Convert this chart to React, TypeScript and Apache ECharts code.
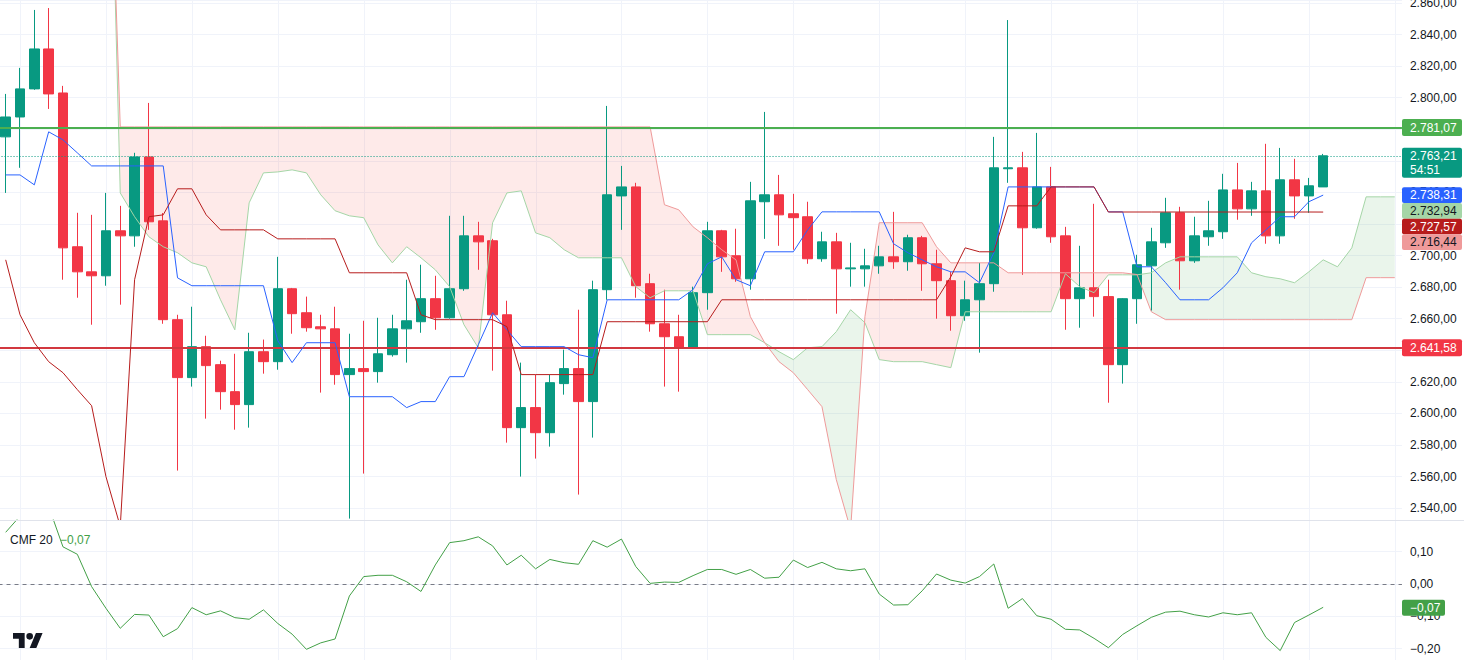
import React, { useEffect, useRef } from "react";
import * as echarts from "echarts";

// ---------- data ----------
const barIndex: string[] = Array.from({ length: 98 }, (_, i) => String(i));

const opens = [
  2775.2, 2787.8, 2805.6, 2830.9, 2803.0, 2705.6, 2689.7, 2687.2, 2715.7, 2712.5,
  2762.5, 2722.0, 2659.4, 2622.7, 2642.3, 2630.9, 2613.8, 2605.6, 2639.1, 2632.8,
  2679.0, 2663.8, 2654.9, 2653.6, 2624.6, 2628.4, 2626.5, 2637.2, 2653.6, 2658.1,
  2672.7, 2660.6, 2679.0, 2712.5, 2709.4, 2662.5, 2591.0, 2603.7, 2587.8, 2618.9,
  2628.4, 2607.5, 2678.4, 2737.8, 2743.5, 2682.2, 2656.8, 2648.6, 2641.6, 2676.5,
  2715.7, 2699.9, 2685.3, 2734.1, 2738.5, 2726.5, 2724.6, 2698.0, 2708.7, 2691.6,
  2691.6, 2693.5, 2699.2, 2696.1, 2711.3, 2694.8, 2684.1, 2661.9, 2672.0, 2682.2,
  2755.0, 2755.6, 2717.6, 2743.5, 2712.5, 2672.7, 2679.6, 2674.0, 2630.9, 2672.7,
  2693.5, 2708.1, 2727.1, 2696.7, 2711.9, 2715.1, 2741.6, 2729.6, 2741.0, 2712.5,
  2748.0, 2737.8, 2743.5,
];
const closes = [
  2787.8, 2805.6, 2830.9, 2802.4, 2704.9, 2689.7, 2687.2, 2715.7, 2712.5, 2762.5,
  2721.4, 2659.4, 2622.7, 2642.3, 2630.3, 2613.8, 2605.6, 2639.1, 2632.8, 2679.0,
  2663.2, 2654.3, 2653.6, 2624.6, 2628.4, 2626.5, 2637.8, 2653.6, 2658.7, 2672.7,
  2660.6, 2679.0, 2712.5, 2708.7, 2662.5, 2591.0, 2603.7, 2587.8, 2619.5, 2628.4,
  2607.5, 2678.4, 2738.5, 2743.5, 2680.9, 2656.8, 2648.6, 2641.6, 2676.5, 2715.7,
  2699.2, 2685.3, 2734.7, 2738.5, 2725.8, 2724.0, 2698.0, 2708.7, 2691.6, 2692.2,
  2693.5, 2699.2, 2696.1, 2711.3, 2694.8, 2684.1, 2661.9, 2672.0, 2682.2, 2755.6,
  2755.6, 2717.6, 2743.5, 2711.9, 2672.7, 2679.6, 2674.0, 2630.9, 2672.7, 2694.2,
  2708.7, 2727.1, 2696.7, 2712.5, 2715.7, 2741.6, 2729.6, 2741.0, 2712.5, 2748.0,
  2737.8, 2744.2, 2763.21,
];
const lows = [
  2739.7, 2755.6, 2805.0, 2792.9, 2684.7, 2673.3, 2656.2, 2680.9, 2668.9, 2705.6,
  2716.3, 2656.8, 2563.8, 2617.0, 2596.7, 2602.4, 2589.7, 2591.0, 2625.2, 2627.7,
  2650.5, 2651.8, 2613.2, 2618.2, 2533.4, 2561.9, 2619.5, 2636.0, 2632.2, 2651.1,
  2653.0, 2660.0, 2677.7, 2691.0, 2627.1, 2581.5, 2560.0, 2571.4, 2579.0, 2611.9,
  2548.6, 2584.7, 2672.0, 2716.3, 2673.3, 2651.8, 2617.0, 2613.8, 2641.0, 2665.7,
  2689.7, 2683.4, 2678.4, 2710.6, 2706.2, 2703.7, 2694.8, 2696.1, 2663.2, 2680.3,
  2680.3, 2688.5, 2691.6, 2690.4, 2677.7, 2660.0, 2652.4, 2658.7, 2638.5, 2677.1,
  2746.1, 2687.8, 2717.0, 2708.1, 2653.0, 2654.3, 2661.3, 2606.8, 2618.9, 2656.8,
  2665.1, 2704.9, 2678.4, 2695.4, 2706.2, 2710.6, 2722.7, 2725.2, 2707.5, 2707.5,
  2723.3, 2727.1, 2743.5,
];
const highs = [
  2802.4, 2818.9, 2855.6, 2856.8, 2807.5, 2727.1, 2725.8, 2739.7, 2731.5, 2765.1,
  2796.7, 2727.0, 2662.5, 2667.6, 2649.2, 2633.4, 2637.8, 2651.1, 2646.8, 2699.2,
  2679.5, 2674.0, 2662.5, 2667.6, 2650.5, 2658.7, 2660.6, 2662.5, 2684.7, 2694.2,
  2687.2, 2725.2, 2725.2, 2721.4, 2710.6, 2671.4, 2632.2, 2624.6, 2624.6, 2640.4,
  2665.7, 2684.1, 2794.8, 2756.8, 2746.1, 2688.5, 2678.4, 2662.5, 2680.3, 2721.4,
  2716.3, 2717.0, 2746.7, 2791.0, 2751.1, 2739.1, 2734.1, 2715.1, 2714.4, 2708.1,
  2704.3, 2706.2, 2727.7, 2713.2, 2712.5, 2703.7, 2689.7, 2684.1, 2695.4, 2775.2,
  2849.2, 2765.7, 2777.7, 2756.2, 2718.2, 2706.2, 2732.8, 2684.7, 2673.0, 2700.5,
  2717.6, 2736.6, 2730.9, 2724.6, 2734.7, 2751.8, 2758.7, 2746.7, 2770.8, 2768.2,
  2761.3, 2749.2, 2764.4,
];

// Ichimoku conversion line (Tenkan)
const tenkan = [
  2751.1, 2751.1, 2744.8, 2778.4, 2773.3, 2765.1, 2756.8, 2756.8, 2756.8, 2756.8,
  2756.8, 2756.8, 2685.9, 2680.9, 2680.9, 2680.9, 2680.9, 2680.9, 2680.9, 2646.1,
  2632.2, 2644.8, 2644.8, 2644.8, 2610.6, 2610.6, 2610.6, 2610.6, 2603.7, 2607.5,
  2607.5, 2623.3, 2623.3, 2643.5, 2663.8, 2653.0, 2642.3, 2642.3, 2642.3, 2642.3,
  2637.2, 2635.3, 2672.0, 2672.0, 2672.0, 2672.0, 2672.0, 2672.0, 2678.4, 2694.8,
  2699.2, 2684.7, 2680.9, 2702.4, 2702.4, 2702.4, 2716.3, 2727.7, 2727.7, 2727.7,
  2727.7, 2727.7, 2707.5, 2701.8, 2697.3, 2692.9, 2689.7, 2689.7, 2682.8, 2701.8,
  2743.5, 2743.5, 2743.5, 2743.5, 2743.5, 2743.5, 2743.5, 2727.7, 2727.7, 2692.9,
  2692.9, 2682.8, 2672.0, 2672.0, 2672.0, 2679.6, 2689.1, 2708.1, 2716.3, 2724.6,
  2724.6, 2734.1, 2738.31,
];
// Ichimoku base line (Kijun)
const kijun = [
  2697.3, 2662.5, 2644.8, 2632.8, 2625.8, 2615.1, 2604.9, 2560.0, 2528.4, 2684.7,
  2724.6, 2725.8, 2742.3, 2742.3, 2725.8, 2716.3, 2716.3, 2716.3, 2716.3, 2710.6,
  2710.6, 2710.6, 2710.6, 2710.6, 2689.1, 2689.1, 2689.1, 2689.1, 2689.1, 2662.5,
  2659.4, 2659.4, 2659.4, 2659.4, 2659.4, 2655.0, 2624.6, 2624.6, 2624.6, 2624.6,
  2624.6, 2624.6, 2658.1, 2658.1, 2658.1, 2658.1, 2658.1, 2658.1, 2658.1, 2658.1,
  2672.0, 2672.0, 2672.0, 2672.0, 2672.0, 2672.0, 2672.0, 2672.0, 2672.0, 2672.0,
  2672.0, 2672.0, 2672.0, 2672.0, 2672.0, 2672.0, 2686.6, 2704.9, 2702.4, 2702.4,
  2731.5, 2731.5, 2731.5, 2743.5, 2743.5, 2743.5, 2743.5, 2727.6, 2727.6, 2727.6,
  2727.6, 2727.6, 2727.6, 2727.6, 2727.6, 2727.6, 2727.6, 2727.6, 2727.6, 2727.6,
  2727.6, 2727.6, 2727.57,
];
// Leading span A (shifted forward)
const spanA: (number | null)[] = [
  null, null, null, null, null, null, null, 3090.0, 2739.7, 2724.6,
  2711.9, 2705.6, 2701.8, 2695.4, 2692.9, 2672.0, 2653.0, 2733.4, 2752.4, 2753.0,
  2754.3, 2752.4, 2738.5, 2728.4, 2725.2, 2724.0, 2706.8, 2695.4, 2705.6, 2698.6,
  2691.0, 2680.3, 2656.2, 2641.6, 2720.8, 2739.7, 2741.0, 2714.4, 2711.3, 2703.7,
  2698.6, 2698.6, 2698.6, 2698.6, 2680.3, 2673.3, 2677.7, 2677.7, 2677.7, 2649.9,
  2649.9, 2649.9, 2649.9, 2644.8, 2639.1, 2634.1, 2641.6, 2642.3, 2651.8, 2665.7,
  2657.5, 2634.1, 2632.8, 2632.8, 2632.8, 2630.9, 2629.0, 2664.4, 2664.4, 2664.4,
  2664.4, 2664.4, 2664.4, 2664.4, 2688.5, 2680.3, 2676.5, 2687.8, 2687.8, 2687.8,
  2689.1, 2695.4, 2699.2, 2699.2, 2699.2, 2699.2, 2699.2, 2689.1, 2686.6, 2685.3,
  2682.8, 2689.7, 2697.3, 2692.9, 2704.9, 2737.2, 2737.2, 2737.2,
];
// Leading span B (shifted forward)
const spanB: (number | null)[] = [
  null, null, null, null, null, null, null, 3050.0, 2781.5, 2781.5,
  2781.5, 2781.5, 2781.5, 2781.5, 2781.5, 2781.5, 2781.5, 2781.5, 2781.5, 2781.5,
  2781.5, 2781.5, 2781.5, 2781.5, 2781.5, 2781.5, 2781.5, 2781.5, 2781.5, 2781.5,
  2781.5, 2781.5, 2781.5, 2781.5, 2781.5, 2781.5, 2781.5, 2781.5, 2781.5, 2781.5,
  2781.5, 2781.5, 2781.5, 2781.5, 2781.5, 2781.5, 2732.2, 2729.0, 2718.2, 2711.3,
  2703.7, 2697.3, 2661.3, 2644.8, 2632.8, 2625.8, 2615.1, 2604.3, 2558.1, 2526.5,
  2661.3, 2720.8, 2720.8, 2720.8, 2720.8, 2705.6, 2695.4, 2695.4, 2695.4, 2695.4,
  2689.1, 2689.1, 2689.1, 2689.1, 2689.1, 2689.1, 2689.1, 2689.1, 2689.1, 2688.0,
  2664.4, 2659.4, 2659.4, 2659.4, 2659.4, 2659.4, 2659.4, 2659.4, 2659.4, 2659.4,
  2659.4, 2659.4, 2659.4, 2659.4, 2659.4, 2686.0, 2686.0, 2686.0,
];
// Chaikin Money Flow (20)
const cmf = [
  0.16, 0.21, 0.28, 0.24, 0.115, 0.092, -0.008, -0.075, -0.137, -0.094,
  -0.096, -0.163, -0.138, -0.073, -0.095, -0.083, -0.104, -0.109, -0.08, -0.122,
  -0.155, -0.202, -0.182, -0.17, -0.037, 0.023, 0.027, 0.027, 0.007, -0.023,
  0.059, 0.128, 0.134, 0.146, 0.118, 0.059, 0.089, 0.047, 0.076, 0.066,
  0.061, 0.134, 0.114, 0.139, 0.054, 0.002, 0.006, 0.005, 0.026, 0.045,
  0.045, 0.03, 0.045, 0.018, 0.021, 0.074, 0.051, 0.067, 0.047, 0.041,
  0.047, -0.031, -0.065, -0.064, -0.021, 0.031, 0.012, 0.003, 0.023, 0.062,
  -0.075, -0.045, -0.098, -0.109, -0.14, -0.142, -0.168, -0.197, -0.156, -0.129,
  -0.103, -0.087, -0.084, -0.095, -0.102, -0.089, -0.095, -0.089, -0.165, -0.206,
  -0.119, -0.096, -0.072,
];

const levelGreen = 2781.07;
const levelRed = 2641.58;
const spanALabel = 2732.94;
const spanBLabel = 2716.44;
const countdown = "54:51";
const gridIdx = [1, 7, 13, 19, 25, 31, 37, 43, 49, 55, 61, 67, 73, 79, 85, 91, 97];

// ---------- helpers ----------
const FONT = '"Liberation Sans", Arial, sans-serif';
const fmt = (v: number, d = 2) => {
  const s = Math.abs(v).toFixed(d);
  const [ip, dp] = s.split(".");
  const intStr = ip.replace(/\B(?=(\d{3})+(?!\d))/g, ".");
  const neg = v < 0 && Number(s) !== 0;
  return (neg ? "\u2212" : "") + intStr + "," + dp;
};
const onStep = (v: number, step: number) => Math.abs(v / step - Math.round(v / step)) < 1e-6;

echarts.graphic.registerShape(
  "tvlogo",
  echarts.graphic.extendPath(
    "M14 22H7V11H0V4h14v18zM28 22h-8l7.5-18h8L28 22zM16 8a4 4 0 1 0 8 0a4 4 0 1 0 -8 0z",
    {}
  )
);

const GREEN_FILL = "rgba(67,160,71,0.11)";
const RED_FILL = "rgba(244,67,54,0.11)";

function gridLineRender(params: any, api: any) {
  const cs = params.coordSys;
  const x = Math.round(api.coord([api.value(0), api.value(1)])[0]) + 0.5;
  return {
    type: "line",
    shape: { x1: x, y1: cs.y, x2: x, y2: cs.y + cs.height },
    style: { stroke: "#f0f3fa", lineWidth: 1 },
  };
}

function cloudRender(_params: any, api: any) {
  const runs: { sign: number; pts: number[][] }[] = [];
  const start = spanA.findIndex((v) => v != null);
  let top: number[][] = [];
  let bot: number[][] = [];
  let sign = 0;
  for (let i = start; i < spanA.length; i++) {
    const a = spanA[i] as number;
    const b = spanB[i] as number;
    const pa = api.coord([i, a]);
    const pb = api.coord([i, b]);
    if (i === start) sign = a - b >= 0 ? 1 : -1;
    top.push(pa);
    bot.push(pb);
    if (i + 1 < spanA.length) {
      const a1 = spanA[i + 1] as number;
      const b1 = spanB[i + 1] as number;
      const s1 = a1 - b1 >= 0 ? 1 : -1;
      if (s1 !== sign) {
        const d0 = a - b;
        const d1 = a1 - b1;
        const t = d0 / (d0 - d1);
        const pa1 = api.coord([i + 1, a1]);
        const cross = [pa[0] + t * (pa1[0] - pa[0]), pa[1] + t * (pa1[1] - pa[1])];
        top.push(cross);
        bot.push(cross);
        runs.push({ sign, pts: top.concat(bot.slice().reverse()) });
        top = [cross];
        bot = [cross];
        sign = s1;
      }
    }
  }
  runs.push({ sign, pts: top.concat(bot.slice().reverse()) });
  return {
    type: "group",
    children: runs.map((r) => ({
      type: "polygon",
      shape: { points: r.pts },
      style: { fill: r.sign > 0 ? GREEN_FILL : RED_FILL },
    })),
  };
}

const GRID_LEFT = -1.46;
const GRID_W = 1403.4;

const option: any = {
  animation: false,
  backgroundColor: "#ffffff",
  textStyle: { fontFamily: FONT },
  tooltip: { show: false },
  grid: [
    { left: GRID_LEFT, top: 0, width: GRID_W, height: 520, containLabel: false, outerBoundsMode: "none" },
    { left: GRID_LEFT, top: 520, width: GRID_W, height: 140, containLabel: false, outerBoundsMode: "none" },
  ],
  xAxis: [
    { type: "category", gridIndex: 0, data: barIndex, show: false, boundaryGap: true },
    { type: "category", gridIndex: 1, data: barIndex, show: false, boundaryGap: true },
  ],
  yAxis: [
    {
      type: "value",
      gridIndex: 0,
      position: "right",
      min: 2532.5,
      max: 2861.9,
      splitNumber: 16,
      minInterval: 20,
      maxInterval: 20,
      axisLine: { show: false },
      axisTick: { show: false },
      axisLabel: {
        color: "#131722",
        fontSize: 12,
        fontFamily: FONT,
        margin: 8,
        formatter: (v: number) => (onStep(v, 20) ? fmt(v) : ""),
      },
      splitLine: { show: true, lineStyle: { color: "#f0f3fa", width: 1 } },
    },
    {
      type: "value",
      gridIndex: 1,
      position: "right",
      min: -0.235,
      max: 0.198,
      splitNumber: 4,
      minInterval: 0.1,
      maxInterval: 0.1,
      axisLine: { show: false },
      axisTick: { show: false },
      axisLabel: {
        color: "#131722",
        fontSize: 12,
        fontFamily: FONT,
        margin: 8,
        formatter: (v: number) => (onStep(v, 0.1) ? fmt(v) : ""),
      },
      splitLine: { show: true, lineStyle: { color: "#f0f3fa", width: 1 } },
    },
  ],
  series: [
    {
      type: "custom",
      name: "vgrid",
      xAxisIndex: 0,
      yAxisIndex: 0,
      silent: true,
      z: 0,
      data: gridIdx.map((i) => [i, 2700]),
      renderItem: gridLineRender,
    },
    {
      type: "custom",
      name: "vgrid2",
      xAxisIndex: 1,
      yAxisIndex: 1,
      silent: true,
      z: 0,
      data: gridIdx.map((i) => [i, 0]),
      renderItem: gridLineRender,
    },
    {
      type: "custom",
      name: "cloud",
      xAxisIndex: 0,
      yAxisIndex: 0,
      silent: true,
      clip: true,
      z: 1,
      data: [[0, 2700]],
      renderItem: cloudRender,
    },
    {
      type: "candlestick",
      name: "ETHUSDT",
      xAxisIndex: 0,
      yAxisIndex: 0,
      silent: true,
      z: 2,
      barWidth: 10,
      data: opens.map((o, i) => [o, closes[i], lows[i], highs[i]]),
      itemStyle: {
        color: "#089981",
        color0: "#F23645",
        borderColor: "#089981",
        borderColor0: "#F23645",
        borderWidth: 1,
      },
    },
    {
      type: "line",
      name: "levels",
      xAxisIndex: 0,
      yAxisIndex: 0,
      silent: true,
      z: 3,
      data: [],
      markLine: {
        silent: true,
        symbol: ["none", "none"],
        label: { show: false },
        data: [
          { yAxis: levelGreen, lineStyle: { color: "#4CAF50", width: 2, type: "solid" } },
          { yAxis: levelRed, lineStyle: { color: "#d2383f", width: 2, type: "solid" } },
          { yAxis: closes[closes.length - 1], lineStyle: { color: "#089981", width: 1, type: [1, 2] } },
        ],
      },
    },
    {
      type: "line",
      name: "Leading Span A",
      xAxisIndex: 0,
      yAxisIndex: 0,
      silent: true,
      z: 4,
      data: spanA,
      symbol: "none",
      lineStyle: { color: "#A5D6A7", width: 1 },
    },
    {
      type: "line",
      name: "Leading Span B",
      xAxisIndex: 0,
      yAxisIndex: 0,
      silent: true,
      z: 4,
      data: spanB,
      symbol: "none",
      lineStyle: { color: "#EF9A9A", width: 1 },
    },
    {
      type: "line",
      name: "Conversion Line",
      xAxisIndex: 0,
      yAxisIndex: 0,
      silent: true,
      z: 5,
      data: tenkan,
      symbol: "none",
      lineStyle: { color: "#2962FF", width: 1 },
    },
    {
      type: "line",
      name: "Base Line",
      xAxisIndex: 0,
      yAxisIndex: 0,
      silent: true,
      z: 5,
      data: kijun,
      symbol: "none",
      lineStyle: { color: "#B71C1C", width: 1 },
    },
    {
      type: "line",
      name: "CMF 20",
      xAxisIndex: 1,
      yAxisIndex: 1,
      silent: true,
      z: 5,
      data: cmf,
      symbol: "none",
      lineStyle: { color: "#43A047", width: 1 },
      markLine: {
        silent: true,
        symbol: ["none", "none"],
        label: { show: false },
        data: [{ yAxis: 0, lineStyle: { color: "#787B86", width: 1, type: [4, 4] } }],
      },
    },
  ],
};

export default function App() {
  const ref = useRef<HTMLDivElement>(null);
  useEffect(() => {
    const prevMargin = document.body.style.margin;
    document.body.style.margin = "0";
    document.body.style.overflow = "hidden";
    const chart = echarts.init(ref.current as HTMLDivElement, null, { renderer: "svg" });
    chart.setOption(option);

    const toY = (v: number, g: number) => chart.convertToPixel({ yAxisIndex: g } as any, v) as unknown as number;
    const font = "12px " + FONT;
    const BX = 1402;
    const BW = 60;
    const TX = 1410;
    const H = 15.7;
    const badges = [
      { v: levelGreen, bg: "#4CAF50", fg: "#ffffff", h: 17, off: 8.5 },
      { v: closes[closes.length - 1], bg: "#089981", fg: "#ffffff", h: 30, off: 8, sub: countdown },
      { v: tenkan[tenkan.length - 1], bg: "#2962FF", fg: "#ffffff", h: H, off: H / 2 },
      { v: spanALabel, bg: "#A5D6A7", fg: "#131722", h: H, off: H / 2 },
      { v: kijun[kijun.length - 1], bg: "#B71C1C", fg: "#ffffff", h: H, off: H / 2 },
      { v: spanBLabel, bg: "#EF9A9A", fg: "#131722", h: H, off: H / 2 },
      { v: levelRed, bg: "#F23645", fg: "#ffffff", h: 17, off: 8.5 },
    ];
    const graphics: any[] = [];
    let prevBottom = -Infinity;
    badges.forEach((b) => {
      const y = toY(b.v, 0);
      const top = Math.max(y - b.off, prevBottom);
      prevBottom = top + b.h;
      graphics.push({
        type: "rect",
        z: 100,
        silent: true,
        shape: { x: BX, y: top, width: BW, height: b.h, r: 2 },
        style: { fill: b.bg },
      });
      graphics.push({
        type: "text",
        z: 101,
        silent: true,
        x: TX,
        y: b.sub ? top + 8 : top + b.h / 2,
        style: { text: fmt(b.v), fill: b.fg, font, textVerticalAlign: "middle", textAlign: "left" },
      });
      if (b.sub) {
        graphics.push({
          type: "text",
          z: 101,
          silent: true,
          x: TX,
          y: top + 22,
          style: { text: b.sub, fill: b.fg, font, textVerticalAlign: "middle", textAlign: "left" },
        });
      }
    });
    // CMF badge
    const cmfLast = cmf[cmf.length - 1];
    const cy = toY(cmfLast, 1);
    graphics.push({
      type: "rect",
      z: 100,
      silent: true,
      shape: { x: BX, y: cy - 7.5, width: 43, height: 16, r: 2 },
      style: { fill: "#43A047" },
    });
    graphics.push({
      type: "text",
      z: 101,
      silent: true,
      x: TX,
      y: cy + 0.5,
      style: { text: fmt(cmfLast), fill: "#ffffff", font, textVerticalAlign: "middle", textAlign: "left" },
    });
    // pane separator
    graphics.push({
      type: "line",
      z: 99,
      silent: true,
      shape: { x1: 0, y1: 520.5, x2: 1464, y2: 520.5 },
      style: { stroke: "#e0e3eb", lineWidth: 1 },
    });
    // indicator legend
    graphics.push({
      type: "text",
      z: 101,
      silent: true,
      x: 10,
      y: 540,
      style: { text: "CMF 20", fill: "#131722", font, textVerticalAlign: "middle", textAlign: "left" },
    });
    graphics.push({
      type: "text",
      z: 101,
      silent: true,
      x: 60,
      y: 540,
      style: { text: fmt(cmfLast), fill: "#43A047", font, textVerticalAlign: "middle", textAlign: "left" },
    });
    // TradingView logo
    graphics.push({
      type: "tvlogo",
      z: 101,
      silent: true,
      x: 13,
      y: 629.7,
      scaleX: 0.833,
      scaleY: 0.833,
      style: { fill: "#131722" },
    });
    chart.setOption({ graphic: graphics });

    return () => {
      chart.dispose();
      document.body.style.margin = prevMargin;
    };
  }, []);
  return <div ref={ref} style={{ width: 1464, height: 660 }} />;
}
